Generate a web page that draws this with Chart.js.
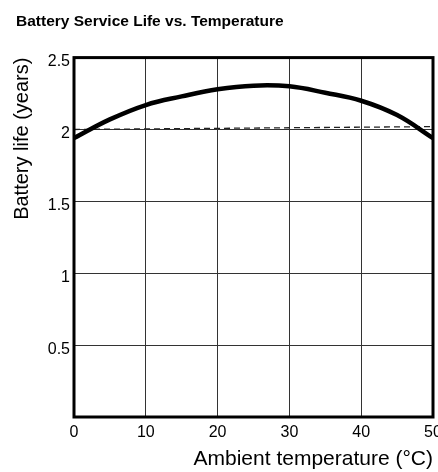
<!DOCTYPE html>
<html>
<head>
<meta charset="utf-8">
<script src="https://cdn.jsdelivr.net/npm/chart.js@4/dist/chart.umd.min.js"></script>
<style>
  html, body { margin: 0; padding: 0; background: #fff; }
  #wrap { width: 438px; height: 472px; }
</style>
</head>
<body>
<div id="wrap"><canvas id="chart" width="438" height="472"></canvas></div>
<script>
// values
const temps = [0, 5, 10, 15, 20, 25, 30, 35, 40, 45, 50];
const lifeYears = [1.94, 2.07, 2.17, 2.23, 2.28, 2.305, 2.30, 2.255, 2.20, 2.10, 1.94];
const refTemps = [0, 50];
const refLife = [2.0, 2.02];
const xTickValues = [0, 10, 20, 30, 40, 50];
const yTickValues = [0, 0.5, 1, 1.5, 2, 2.5];
const yTickLabels = ["", "0.5", "1", "1.5", "2", "2.5"];

const sans = "'Liberation Sans', Arial, sans-serif";
const tickFont = { family: sans, size: 16 };

// thick frame round the plot area
const frame = {
    id: "frame",
    afterDatasetsDraw(chart) {
        const { ctx, chartArea: a } = chart;
        ctx.save();
        ctx.strokeStyle = "#000";
        ctx.lineWidth = 3;
        ctx.strokeRect(a.left, a.top, a.right - a.left, a.bottom - a.top);
        ctx.restore();
    }
};

new Chart(document.getElementById("chart"), {
    type: "line",
    data: {
        datasets: [
            {
                data: temps.map((t, i) => ({ x: t, y: lifeYears[i] })),
                borderColor: "#000",
                borderWidth: 4.5,
                pointRadius: 0,
                tension: 0.4,
                fill: false
            },
            {
                data: refTemps.map((t, i) => ({ x: t, y: refLife[i] })),
                borderColor: "#222",
                borderWidth: 1.3,
                borderDash: [6, 4],
                pointRadius: 0,
                fill: false
            }
        ]
    },
    options: {
        responsive: false,
        animation: false,
        layout: { padding: { left: 16, right: 5, top: 0, bottom: 0 } },
        plugins: {
            legend: { display: false },
            tooltip: { enabled: false },
            title: {
                display: true,
                text: "Battery Service Life vs. Temperature",
                align: "start",
                color: "#000",
                font: { family: sans, size: 15.5, weight: "bold", lineHeight: 1.2 },
                padding: { top: 12, bottom: 27 }
            }
        },
        scales: {
            x: {
                type: "linear",
                min: 0,
                max: 50,
                afterBuildTicks(scale) { scale.ticks = xTickValues.map(v => ({ value: v })); },
                afterFit(scale) {
                    scale.height = 55;
                    scale.paddingLeft = 0;
                    scale.paddingRight = 0;
                },
                grid: { color: "#333", lineWidth: 1, drawTicks: false },
                border: { display: false },
                ticks: { color: "#000", font: tickFont, padding: 6, maxRotation: 0 },
                title: {
                    display: true,
                    text: "Ambient temperature (°C)",
                    align: "end",
                    color: "#000",
                    font: { family: sans, size: 21, lineHeight: 1 },
                    padding: { top: 2.5, bottom: 2.5 }
                }
            },
            y: {
                min: 0,
                max: 2.5,
                afterBuildTicks(scale) { scale.ticks = yTickValues.map(v => ({ value: v })); },
                afterFit(scale) { scale.width = 58; },
                grid: { color: "#333", lineWidth: 1, drawTicks: false },
                border: { display: false },
                ticks: {
                    color: "#000",
                    font: tickFont,
                    padding: 4,
                    labelOffset: 4,
                    callback: (v) => yTickLabels[yTickValues.indexOf(v)]
                },
                title: {
                    display: true,
                    text: "Battery life (years)",
                    align: "end",
                    color: "#000",
                    font: { family: sans, size: 20, lineHeight: 1 },
                    padding: { top: -4, bottom: 0 }
                }
            }
        }
    },
    plugins: [frame]
});
</script>
</body>
</html>
